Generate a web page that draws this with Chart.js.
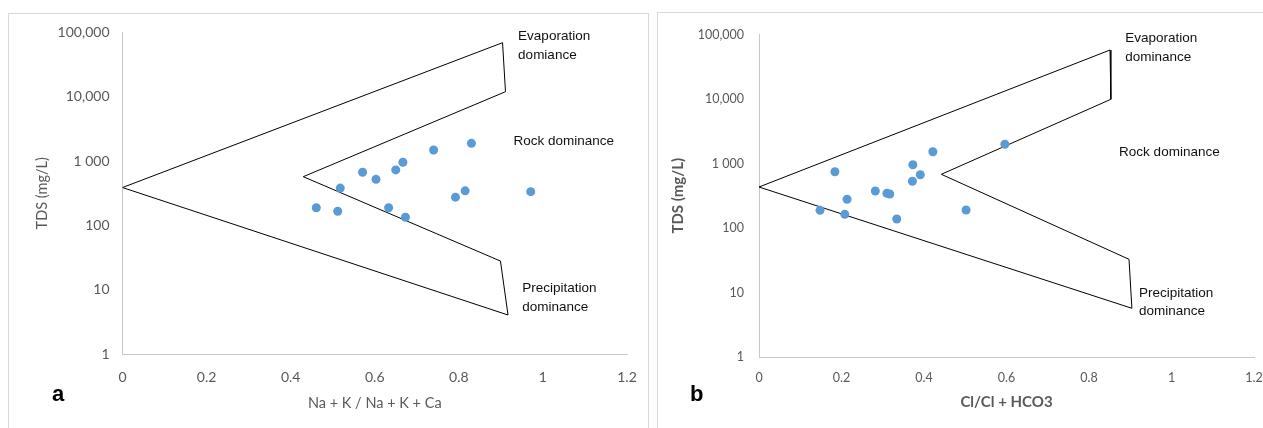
<!DOCTYPE html>
<html>
<head>
<meta charset="utf-8">
<script src="https://cdn.jsdelivr.net/npm/chart.js@4.4.1/dist/chart.umd.min.js"></script>
<style>
  html, body { margin: 0; padding: 0; background: #fff; overflow: hidden; width: 1263px; height: 428px; }
  .panel { position: absolute; border: 1px solid #d9d9d9; box-sizing: border-box; }
  canvas { position: absolute; top: 0; }
  .tag { position: absolute; font-family: "Liberation Sans", Arial, sans-serif; font-weight: bold; font-size: 22px; color: #000; }
</style>
</head>
<body>
<div class="panel" style="left:8px; top:13px; width:641px; height:430px;"></div>
<div class="panel" style="left:657px; top:12px; width:620px; height:430px;"></div>
<canvas id="chartA" width="650" height="428" style="left:0px"></canvas>
<canvas id="chartB" width="650" height="428" style="left:650px"></canvas>
<div class="tag" style="left:52px; top:381px;">a</div>
<div class="tag" style="left:690px; top:381px;">b</div>
<script>
// axis ticks
const xTickVals = [0, 0.2, 0.4, 0.6, 0.8, 1, 1.2];
const xTickLabels = ['0', '0.2', '0.4', '0.6', '0.8', '1', '1.2'];
const yTickVals = [1, 10, 100, 1000, 10000, 100000];
const yTickLabels = ['1', '10', '100', '1 000', '10,000', '100,000'];

// panel a: Na + K / Na + K + Ca
const ratioA = [0.740, 0.830, 0.667, 0.650, 0.571, 0.603, 0.518, 0.815, 0.792, 0.971, 0.461, 0.512, 0.633, 0.673];
const tdsA = [1490, 1890, 960, 730, 670, 520, 380, 345, 275, 335, 188, 166, 188, 134];
const boundaryXA = [0, 0.904, 0.911, 0.430, 0.899, 0.917, 0];
const boundaryYA = [388, 69400, 12000, 572, 27.9, 4.04, 388];
const labelTextA = ['Evaporation', 'domiance', 'Rock dominance', 'Precipitation', 'dominance'];
const labelXA = [0.941, 0.941, 0.930, 0.951, 0.951];
const labelYA = [88300, 44700, 2000, 10.6, 5.38];

// panel b: Cl/Cl + HCO3
const ratioB = [0.184, 0.4215, 0.373, 0.391, 0.372, 0.282, 0.310, 0.317, 0.2135, 0.148, 0.208, 0.334, 0.502, 0.596];
const tdsB = [746, 1524, 958, 670, 530, 375, 345, 337, 279, 188, 163, 138, 190, 1985];
const boundaryXB = [0, 0.851, 0.853, 0.442, 0.897, 0.904, 0];
const boundaryYB = [432, 57500, 9890, 680, 32.7, 5.69, 432];
const labelTextB = ['Evaporation', 'dominance', 'Rock dominance', 'Precipitation', 'dominance'];
const labelXB = [0.888, 0.888, 0.873, 0.921, 0.921];
const labelYB = [88300, 44800, 1470, 9.8, 5.04];

function pairs(xs, ys) {
    return xs.map((x, i) => ({x: x, y: ys[i]}));
}

// writes the region names next to the envelope
const regionLabels = {
    id: 'regionLabels',
    afterDatasetsDraw(chart, args, opts) {
        const ctx = chart.ctx;
        ctx.save();
        ctx.font = '13.5px "Liberation Sans", Arial, sans-serif';
        ctx.fillStyle = '#111';
        ctx.textAlign = 'left';
        ctx.textBaseline = 'middle';
        opts.text.forEach((t, i) => {
            ctx.fillText(t, chart.scales.x.getPixelForValue(opts.xs[i]), chart.scales.y.getPixelForValue(opts.ys[i]));
        });
        ctx.restore();
    }
};

function makeChart(id, cfg) {
    const tickFont = {family: 'Lato', size: cfg.tickSize};
    return new Chart(document.getElementById(id), {
        type: 'scatter',
        data: {
            datasets: [
                {
                    data: pairs(cfg.bx, cfg.by),
                    showLine: true,
                    borderColor: '#000',
                    borderWidth: 1,
                    pointRadius: 0,
                    tension: 0,
                    order: 2,
                },
                {
                    data: pairs(cfg.px, cfg.py),
                    backgroundColor: '#5b9bd5',
                    borderWidth: 0,
                    pointRadius: 4.5,
                    order: 1,
                },
            ]
        },
        options: {
            responsive: false,
            animation: false,
            devicePixelRatio: 1,
            layout: {padding: {left: 0, top: cfg.top, right: cfg.right, bottom: 0}},
            plugins: {
                legend: {display: false},
                tooltip: {enabled: false},
                regionLabels: {text: cfg.lt, xs: cfg.lx, ys: cfg.ly},
            },
            scales: {
                x: {
                    type: 'linear',
                    min: 0,
                    max: 1.2,
                    grid: {display: false, drawTicks: false},
                    border: {display: true, color: '#c8c8c8', width: 1},
                    afterBuildTicks: (s) => { s.ticks = xTickVals.map(v => ({value: v})); },
                    afterFit: (s) => { s.height = 428 - cfg.bottom; s.paddingLeft = 0; s.paddingRight = 0; },
                    ticks: {
                        color: '#595959',
                        font: tickFont,
                        padding: cfg.xTickPad,
                        maxRotation: 0,
                        autoSkip: false,
                        callback: (v, i) => xTickLabels[i],
                    },
                    title: {
                        display: true,
                        text: cfg.xTitle,
                        color: cfg.titleColor,
                        font: {family: 'Lato', size: cfg.titleSize, weight: cfg.titleWeight},
                        padding: {top: 0, bottom: cfg.xTitlePad},
                    },
                },
                y: {
                    type: 'logarithmic',
                    min: 1,
                    max: 100000,
                    grid: {display: false, drawTicks: false},
                    border: {display: true, color: '#c8c8c8', width: 1},
                    afterBuildTicks: (s) => { s.ticks = yTickVals.map(v => ({value: v})); },
                    afterFit: (s) => { s.width = cfg.left; s.paddingTop = 0; s.paddingBottom = 0; },
                    ticks: {
                        color: '#595959',
                        font: tickFont,
                        padding: cfg.yTickPad,
                        autoSkip: false,
                        callback: (v, i) => yTickLabels[i],
                    },
                    title: {
                        display: true,
                        text: 'TDS (mg/L)',
                        color: cfg.titleColor,
                        font: {family: 'Lato', size: cfg.titleSize, weight: cfg.titleWeight},
                        padding: {top: cfg.yTitlePad, bottom: 0},
                    },
                },
            }
        },
        plugins: [regionLabels]
    });
}

const chartA = makeChart('chartA', {
    px: ratioA, py: tdsA, bx: boundaryXA, by: boundaryYA,
    lt: labelTextA, lx: labelXA, ly: labelYA,
    left: 122.5, right: 23, top: 32.5, bottom: 354,
    tickSize: 14, yTickPad: 13, xTickPad: 15,
    xTitle: 'Na + K / Na + K + Ca', titleColor: '#595959', titleSize: 14.5, titleWeight: 'normal',
    xTitlePad: 16, yTitlePad: 34,
});

const chartB = makeChart('chartB', {
    px: ratioB, py: tdsB, bx: boundaryXB, by: boundaryYB,
    lt: labelTextB, lx: labelXB, ly: labelYB,
    left: 109, right: 46, top: 34.5, bottom: 357,
    tickSize: 12.5, yTickPad: 15, xTickPad: 13,
    xTitle: 'Cl/Cl + HCO3', titleColor: '#595959', titleSize: 15, titleWeight: 'bold',
    xTitlePad: 17, yTitlePad: 19,
});
</script>
</body>
</html>
